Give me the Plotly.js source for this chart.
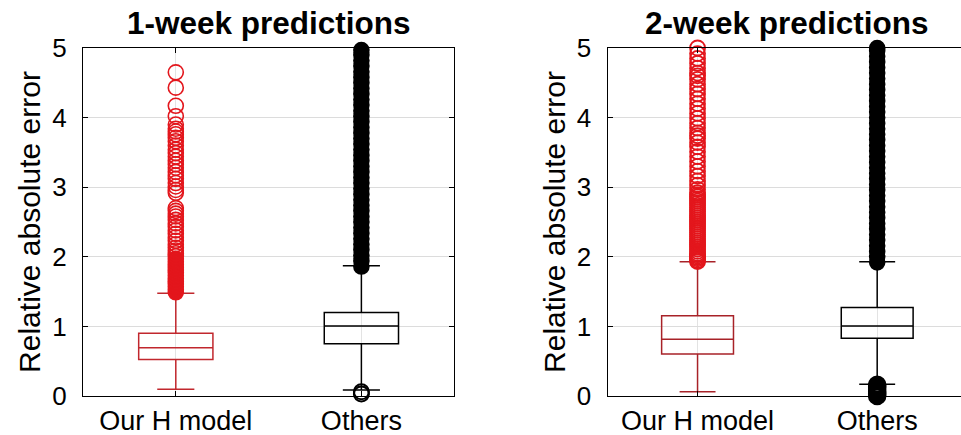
<!DOCTYPE html>
<html>
<head>
<meta charset="utf-8">
<script src="https://cdn.plot.ly/plotly-3.0.1.min.js"></script>
<style>
html, body { margin: 0; padding: 0; overflow: hidden; background: #fff; }
#chart { width: 970px; height: 435px; }
</style>
</head>
<body>
<div id="chart"></div>
<script>
// ---- data ----
const categories = ['Our H model', 'Others'];
const panelTitles = ['1-week predictions', '2-week predictions'];
const yTitle = 'Relative absolute error';

// box statistics: [Our H model, Others]
const q1_w1 = [0.525, 0.750];
const median_w1 = [0.694, 1.006];
const q3_w1 = [0.900, 1.200];
const lowerFence_w1 = [0.096, 0.088];
const upperFence_w1 = [1.475, 1.870];

const q1_w2 = [0.605, 0.830];
const median_w2 = [0.815, 1.006];
const q3_w2 = [1.154, 1.270];
const lowerFence_w2 = [0.060, 0.170];
const upperFence_w2 = [1.930, 1.930];

// outliers, 1-week
const hRingOut_w1 = [4.65, 4.43, 4.17, 4.02, 3.90, 3.84, 3.80, 3.76, 3.71, 3.66, 3.60, 3.54, 3.49, 3.44, 3.38, 3.33, 3.28, 3.22, 3.17, 3.12, 3.06, 3.01, 2.96, 2.92, 2.70, 2.66, 2.62, 2.58, 2.53, 2.48, 2.43, 2.38, 2.33, 2.28, 2.23, 2.18, 2.13, 2.09, 2.05, 2.01];
const hDenseOut_w1 = [1.49, 1.53, 1.57, 1.61, 1.65, 1.69, 1.73, 1.77, 1.81, 1.85, 1.89, 1.93, 1.97];
const othersDenseOut_w1 = [1.86, 1.94, 2.02, 2.10, 2.18, 2.26, 2.34, 2.42, 2.50, 2.58, 2.66, 2.74, 2.82, 2.90, 2.98, 3.06, 3.14, 3.22, 3.30, 3.38, 3.46, 3.54, 3.62, 3.70, 3.78, 3.86, 3.94, 4.02, 4.10, 4.18, 4.26, 4.34, 4.42, 4.50, 4.58, 4.66, 4.74, 4.82, 4.90, 4.97];
const othersLowOut_w1 = [0.06, 0.03];

// outliers, 2-week
const hRingOut_w2 = [2.97, 3.03, 3.09, 3.16, 3.23, 3.30, 3.37, 3.44, 3.51, 3.58, 3.64, 3.70, 3.74, 3.78, 3.85, 3.92, 3.99, 4.06, 4.13, 4.20, 4.27, 4.34, 4.41, 4.48, 4.55, 4.60, 4.64, 4.71, 4.78, 4.85, 4.92, 5.00];
const hDenseOut_w2 = [1.93, 1.95, 1.97, 1.99, 2.01, 2.03, 2.05, 2.08, 2.11, 2.14, 2.17, 2.20, 2.23, 2.26, 2.29, 2.32, 2.35, 2.38, 2.41, 2.44, 2.47, 2.50, 2.53, 2.56, 2.59, 2.62, 2.65, 2.68, 2.71, 2.74, 2.77, 2.80, 2.83, 2.86, 2.89, 2.92];
const othersDenseOut_w2 = [1.92, 2.00, 2.08, 2.16, 2.24, 2.32, 2.40, 2.48, 2.56, 2.64, 2.72, 2.80, 2.88, 2.96, 3.04, 3.12, 3.20, 3.28, 3.36, 3.44, 3.52, 3.60, 3.68, 3.76, 3.84, 3.92, 4.00, 4.08, 4.16, 4.24, 4.32, 4.40, 4.48, 4.56, 4.64, 4.72, 4.80, 4.88, 4.96, 5.00];
const othersLowOut_w2 = [0.00, 0.02, 0.04, 0.06, 0.09, 0.12, 0.14, 0.16];

// ---- styling ----
const FONT = 'Liberation Sans, Arial, Helvetica, sans-serif';
const boxRed1 = '#c1272d';
const boxRed2 = '#a82228';
const outRed = '#e3161c';
const black = '#000000';

function boxTrace(ax, idx, q1, med, q3, lo, hi, color) {
  return {
    type: 'box', xaxis: ax.x, yaxis: ax.y,
    x: [categories[idx]], q1: [q1[idx]], median: [med[idx]], q3: [q3[idx]],
    lowerfence: [lo[idx]], upperfence: [hi[idx]],
    width: 0.4, whiskerwidth: 0.5, boxpoints: false,
    line: { color: color, width: 1.5 },
    fillcolor: 'rgba(255,255,255,0)',
    hoverinfo: 'skip', showlegend: false
  };
}
function outTrace(ax, idx, vals, color, filled, lw) {
  return {
    type: 'scatter', mode: 'markers', xaxis: ax.x, yaxis: ax.y,
    x: vals.map(() => categories[idx]), y: vals,
    cliponaxis: false,
    marker: {
      symbol: filled ? 'circle' : 'circle-open', size: 15,
      color: color, line: { color: color, width: lw || 1.6 }
    },
    hoverinfo: 'skip', showlegend: false
  };
}

const A1 = { x: 'x', y: 'y' };
const A2 = { x: 'x2', y: 'y2' };

const data = [
  boxTrace(A1, 0, q1_w1, median_w1, q3_w1, lowerFence_w1, upperFence_w1, boxRed1),
  boxTrace(A1, 1, q1_w1, median_w1, q3_w1, lowerFence_w1, upperFence_w1, black),
  outTrace(A1, 0, hDenseOut_w1, outRed, true),
  outTrace(A1, 0, hRingOut_w1, outRed, false),
  outTrace(A1, 1, othersDenseOut_w1, black, true),
  outTrace(A1, 1, othersLowOut_w1, black, false, 2),

  boxTrace(A2, 0, q1_w2, median_w2, q3_w2, lowerFence_w2, upperFence_w2, boxRed2),
  boxTrace(A2, 1, q1_w2, median_w2, q3_w2, lowerFence_w2, upperFence_w2, black),
  outTrace(A2, 0, hDenseOut_w2, outRed, false, 1.8),
  outTrace(A2, 0, hRingOut_w2, outRed, false, 1.8),
  outTrace(A2, 1, othersDenseOut_w2, black, true),
  outTrace(A2, 1, othersLowOut_w2, black, false, 3.5)
];

function xAxis(domain, anchor) {
  return {
    domain: domain, anchor: anchor,
    type: 'category', categoryorder: 'array', categoryarray: categories,
    range: [-0.5, 1.5],
    showline: true, linecolor: '#000', linewidth: 1.2, mirror: 'ticks',
    ticks: 'inside', ticklen: 5, tickcolor: '#000',
    showgrid: true, gridcolor: '#e3e3e3', gridwidth: 1,
    tickfont: { family: FONT, size: 27, color: '#000' },
    ticklabelstandoff: 0,
    zeroline: false, fixedrange: true
  };
}
function yAxis(anchor) {
  return {
    anchor: anchor, domain: [0, 1],
    range: [0, 5], tickmode: 'linear', tick0: 0, dtick: 1,
    showline: true, linecolor: '#000', linewidth: 1.2, mirror: 'ticks',
    ticks: 'inside', ticklen: 5, tickcolor: '#000',
    showgrid: true, gridcolor: '#dcdcdc', gridwidth: 1,
    tickfont: { family: FONT, size: 26, color: '#000' },
    ticklabelstandoff: 10,
    title: { text: yTitle, font: { family: FONT, size: 30, color: '#000' }, standoff: 2 },
    zeroline: false, fixedrange: true
  };
}

const layout = {
  width: 970, height: 435,
  margin: { l: 83, r: 3, t: 48, b: 39 },
  paper_bgcolor: '#ffffff', plot_bgcolor: '#ffffff',
  showlegend: false,
  xaxis: xAxis([0, 0.4199], 'y'),
  yaxis: yAxis('x'),
  xaxis2: xAxis([0.5936, 1], 'y2'),
  yaxis2: yAxis('x2'),
  annotations: [
    { text: '<b>' + panelTitles[0] + '</b>', xref: 'x domain', yref: 'paper', x: 0.5, y: 1, yshift: 25,
      xanchor: 'center', yanchor: 'middle', showarrow: false,
      font: { family: FONT, size: 31.5, color: '#000' } },
    { text: '<b>' + panelTitles[1] + '</b>', xref: 'x2 domain', yref: 'paper', x: 0.5, y: 1, yshift: 25,
      xanchor: 'center', yanchor: 'middle', showarrow: false,
      font: { family: FONT, size: 31.5, color: '#000' } }
  ]
};

Plotly.newPlot('chart', data, layout, { displayModeBar: false, staticPlot: true });
</script>
</body>
</html>
